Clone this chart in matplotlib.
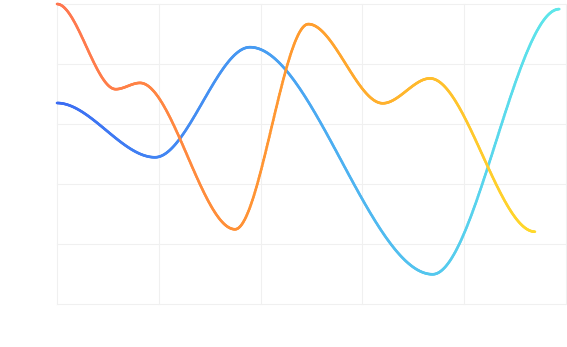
import numpy as np
import matplotlib

matplotlib.use("Agg")
import matplotlib.pyplot as plt
from matplotlib.collections import LineCollection
from matplotlib.colors import LinearSegmentedColormap

# series data (x on a 0-500 value axis, y on 0-100)
orange_x = [0, 57.7, 81.5, 174.9, 246.9, 320.0, 366.4, 469.5]
orange_y = [100, 71.6, 73.7, 24.9, 93.3, 66.9, 75.2, 24.1]
blue_x = [0, 96.3, 189.6, 369.0, 493.4]
blue_y = [67, 48.9, 85.6, 9.9, 98.3]

orange_colors = ["#ff7650", "#ff9a2e", "#ffd92b"]
blue_colors = ["#3b6cf3", "#4aa8f2", "#5ee8ea"]


def pchip(x, y, n=600):
    # monotone cubic (Fritsch-Carlson) so extrema stay flat
    x = np.asarray(x, float)
    y = np.asarray(y, float)
    h = np.diff(x)
    d = np.diff(y) / h
    m = np.zeros_like(y)
    for k in range(1, len(x) - 1):
        if d[k - 1] * d[k] > 0:
            w1 = 2 * h[k] + h[k - 1]
            w2 = h[k] + 2 * h[k - 1]
            m[k] = (w1 + w2) / (w1 / d[k - 1] + w2 / d[k])
    xs = np.linspace(x[0], x[-1], n)
    idx = np.clip(np.searchsorted(x, xs) - 1, 0, len(h) - 1)
    t = (xs - x[idx]) / h[idx]
    h00 = 2 * t**3 - 3 * t**2 + 1
    h10 = t**3 - 2 * t**2 + t
    h01 = -2 * t**3 + 3 * t**2
    h11 = t**3 - t**2
    ys = h00 * y[idx] + h10 * h[idx] * m[idx] + h01 * y[idx + 1] + h11 * h[idx] * m[idx + 1]
    return xs, ys


def gradient_line(ax, x, y, colors):
    xs, ys = pchip(x, y)
    pts = np.column_stack([xs, ys]).reshape(-1, 1, 2)
    segs = np.concatenate([pts[:-1], pts[1:]], axis=1)
    cmap = LinearSegmentedColormap.from_list("grad", colors)
    lc = LineCollection(segs, cmap=cmap, linewidth=1.9, capstyle="round", joinstyle="round")
    lc.set_array((xs[:-1] - xs[0]) / (xs[-1] - xs[0]))
    lc.set_clim(0, 1)
    lc.set_clip_on(False)
    ax.add_collection(lc)


fig = plt.figure(figsize=(5.67, 3.47), dpi=100)
ax = fig.add_axes([57 / 567, 43 / 347, 509 / 567, 300 / 347])
ax.set_xlim(0, 500)
ax.set_ylim(0, 100)
ax.tick_params(length=0, labelbottom=False, labelleft=False)
for s in ax.spines.values():
    s.set_visible(False)

# light split lines, edges included
for gx in np.arange(0, 501, 100):
    ax.axvline(gx, color="#f0f0f0", linewidth=0.8, clip_on=False, zorder=0)
for gy in np.arange(0, 101, 20):
    ax.axhline(gy, color="#f0f0f0", linewidth=0.8, clip_on=False, zorder=0)

gradient_line(ax, blue_x, blue_y, blue_colors)
gradient_line(ax, orange_x, orange_y, orange_colors)

fig.savefig("out.png", dpi=100)
plt.close(fig)
